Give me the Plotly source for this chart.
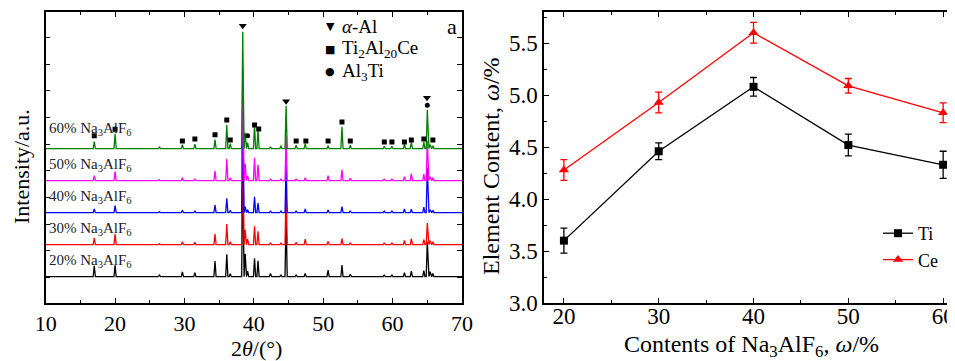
import plotly.graph_objects as go

# ---------------- data: panel a (XRD) ----------------
peak_pos = [17.0, 20.0, 26.4, 29.7, 31.5, 34.4, 36.1, 36.6, 38.4, 38.75, 39.1, 40.1, 40.6,
            42.4, 43.9, 44.65, 46.1, 47.4, 50.7, 52.7, 53.9, 58.8, 59.9, 61.7, 62.7, 64.5,
            65.0, 65.4, 65.8]
int_20 = [11, 11.5, 1.5, 4.7, 4, 15.7, 22.3, 3, 110, 23, 5.7, 18.3, 16,
          3.3, 2, 60, 2, 3.3, 6.7, 11.7, 2.5, 2, 2, 4, 5.7, 6,
          35, 5, 3.3]
int_30 = [6.7, 10.7, 1, 3, 2.5, 10.7, 20.7, 3, 110, 15, 5.7, 18.3, 13.3,
          2, 2, 60, 2.5, 5.7, 3.3, 6, 2, 2, 2, 4.3, 6, 5,
          21.7, 4, 3]
int_40 = [3.7, 7, 1, 2.5, 2, 7.7, 14.5, 2.5, 110, 6, 3, 16, 9.5,
          2, 2, 48, 2, 3.7, 2.7, 6, 2, 1.5, 2, 3.7, 3.5, 5.5,
          45, 3, 2.5]
int_50 = [5, 9, 1, 3, 2, 10, 22, 3, 110, 17, 5, 23, 16,
          2, 2, 45, 2, 3, 5, 11, 2.5, 2, 2, 4, 7, 6.5,
          40, 4, 3]
int_60 = [7, 15, 1.5, 4, 4.5, 9, 24, 5, 117, 16, 6, 24, 19,
          2, 3, 43, 3.5, 5, 3, 22, 3.5, 2.5, 2.5, 4.5, 6.5, 6.5,
          39, 4, 3]
sample_names = ["20%", "30%", "40%", "50%", "60%"]
sample_ints = [int_20, int_30, int_40, int_50, int_60]
sample_colors = ["#000000", "#ff0000", "#0000ff", "#ff00ff", "#008000"]

# phase markers (2theta, level)
sq_pos = [17.0, 20.0, 29.7, 31.5, 34.4, 36.1, 36.6, 40.1, 40.7, 46.1, 47.5, 50.7, 52.7,
          53.9, 58.8, 59.9, 61.7, 62.7, 64.5, 65.8]
sq_lvl = [167.3, 173.7, 162, 164, 168.3, 183, 163, 178, 174, 162, 162, 162, 181,
          162, 161, 161, 161, 163, 164, 163]
tri_pos = [38.4, 44.65, 64.95]
tri_lvl = [277.3, 201.7, 205.3]
cir_pos = [39.1, 65.0]
cir_lvl = [167.3, 197.7]

# ---------------- data: panel b ----------------
na_content = [20, 30, 40, 50, 60]
ti_vals = [3.60, 4.46, 5.08, 4.52, 4.33]
ti_err = [0.12, 0.08, 0.09, 0.105, 0.13]
ce_vals = [4.28, 4.93, 5.60, 5.09, 4.83]
ce_err = [0.10, 0.10, 0.10, 0.07, 0.095]

FONT = "Liberation Serif"
OFF = 8                       # page body margin
W, H = 955 - OFF, 361 - OFF   # figure size so it fills the window


def px_x(p):
    return (p - OFF) / W


def px_y(p):
    return (361 - p) / H


fig = go.Figure()

# XRD patterns
BASE0 = 26.3
STEP = 32.0
HALFW = 0.16
for i, (name, ints, col) in enumerate(zip(sample_names, sample_ints, sample_colors)):
    b = BASE0 + i * STEP
    xs = [10.0]
    ys = [b]
    for p, h in zip(peak_pos, ints):
        xs += [p - HALFW, p, p + HALFW]
        ys += [b, b + h, b]
    xs.append(70.0)
    ys.append(b)
    fig.add_trace(go.Scatter(x=xs, y=ys, mode="lines", line=dict(color=col, width=1.3),
                             xaxis="x", yaxis="y", showlegend=False, hoverinfo="skip"))

fig.add_trace(go.Scatter(x=sq_pos, y=sq_lvl, mode="markers", xaxis="x", yaxis="y",
                         marker=dict(symbol="square", size=5, color="black"), showlegend=False))
fig.add_trace(go.Scatter(x=tri_pos, y=tri_lvl, mode="markers", xaxis="x", yaxis="y",
                         marker=dict(symbol="triangle-down", size=7, color="black"), showlegend=False))
fig.add_trace(go.Scatter(x=cir_pos, y=cir_lvl, mode="markers", xaxis="x", yaxis="y",
                         marker=dict(symbol="circle", size=5, color="black"), showlegend=False))

# panel b
fig.add_trace(go.Scatter(x=na_content, y=ti_vals, name="Ti", mode="lines+markers",
                         xaxis="x2", yaxis="y2",
                         line=dict(color="black", width=1.3),
                         marker=dict(symbol="square", size=8, color="black"),
                         error_y=dict(type="data", array=ti_err, visible=True,
                                      color="black", thickness=1.3, width=3.5)))
fig.add_trace(go.Scatter(x=na_content, y=ce_vals, name="Ce", mode="lines+markers",
                         xaxis="x2", yaxis="y2",
                         line=dict(color="#ff0000", width=1.3),
                         marker=dict(symbol="triangle-up", size=9, color="#ff0000"),
                         error_y=dict(type="data", array=ce_err, visible=True,
                                      color="#ff0000", thickness=1.3, width=3.5)))

ydom = [px_y(303), px_y(12)]
axis_common = dict(showline=True, linecolor="black", linewidth=1.5, ticks="inside",
                   tickcolor="black", tickwidth=1.2, ticklen=5, showgrid=False,
                   zeroline=False, automargin=False)
left_font = dict(family=FONT, size=22, color="black")
right_font = dict(family=FONT, size=23, color="black")

fig.update_layout(
    width=W, height=H,
    margin=dict(l=0, r=0, t=0, b=0, autoexpand=False),
    paper_bgcolor="white", plot_bgcolor="white",
    font=dict(family=FONT, color="black"),
    xaxis=dict(domain=[px_x(45.7), px_x(462)], range=[10, 70], tickvals=[10, 20, 30, 40, 50, 60, 70],
               mirror="ticks", minor=dict(dtick=5, tick0=0, ticks="inside", ticklen=3, tickcolor="black"),
               anchor="y", tickfont=left_font, **axis_common),
    yaxis=dict(domain=ydom, range=[0, 291], tick0=25.4, dtick=26.7, showticklabels=False,
               mirror="ticks", anchor="x", **axis_common),
    xaxis2=dict(domain=[px_x(544), 1.0], range=[17.9, 61.25], tickvals=[20, 30, 40, 50, 60],
                mirror="ticks", minor=dict(dtick=5, tick0=0, ticks="inside", ticklen=3, tickcolor="black"),
                anchor="y2", tickfont=right_font, ticklabelstandoff=-8, **axis_common),
    yaxis2=dict(domain=ydom, range=[3.0, 5.8], tickvals=[3.0, 3.5, 4.0, 4.5, 5.0, 5.5],
                tickformat=".1f", minor=dict(dtick=0.25, tick0=0, ticks="inside", ticklen=3, tickcolor="black"),
                anchor="x2", tickfont=right_font, **axis_common),
    legend=dict(x=px_x(878), y=px_y(215), xanchor="left", yanchor="top",
                bgcolor="rgba(0,0,0,0)", font=dict(family=FONT, size=18, color="black"),
                itemwidth=30, tracegroupgap=0),
    showlegend=True,
)

ann = []
# sample labels
for i, name in enumerate(sample_names):
    b = BASE0 + i * STEP
    off = 20 if i == 4 else 16
    ann.append(dict(x=10.25, y=b + off, xref="x", yref="y", xanchor="left", yanchor="middle",
                    text=name + " Na<sub>3</sub>AlF<sub>6</sub>", showarrow=False,
                    font=dict(family=FONT, size=15, color="#222222")))
# phase legend
leg_items = [("▼", "<i>α</i>-Al", 27), ("■", "Ti<sub>2</sub>Al<sub>20</sub>Ce", 49), ("●", "Al<sub>3</sub>Ti", 72)]
for g, t, yy in leg_items:
    ann.append(dict(x=px_x(330), y=px_y(yy), xref="paper", yref="paper", xanchor="center", yanchor="middle",
                    text=g, showarrow=False, font=dict(family="DejaVu Sans", size=11, color="black")))
    ann.append(dict(x=px_x(340), y=px_y(yy), xref="paper", yref="paper", xanchor="left", yanchor="middle",
                    text=t, showarrow=False, font=dict(family=FONT, size=19, color="black")))
ann.append(dict(x=px_x(452), y=px_y(27), xref="paper", yref="paper", xanchor="center", yanchor="middle",
                text="a", showarrow=False, font=dict(family=FONT, size=22, color="black")))
ann.append(dict(x=px_x(945), y=px_y(33), xref="paper", yref="paper", xanchor="left", yanchor="middle",
                text="b", showarrow=False, font=dict(family=FONT, size=22, color="black")))
# axis titles
ann.append(dict(x=px_x(256), y=px_y(348), xref="paper", yref="paper", xanchor="center", yanchor="middle",
                text="2<i>θ</i>/(°)", showarrow=False, font=dict(family=FONT, size=22, color="black")))
ann.append(dict(x=px_x(751), y=px_y(346), xref="paper", yref="paper", xanchor="center", yanchor="middle",
                text="Contents of Na<sub>3</sub>AlF<sub>6</sub>, <i>ω</i>/%", showarrow=False,
                font=dict(family=FONT, size=24, color="black")))
ann.append(dict(x=px_x(22), y=px_y(167), xref="paper", yref="paper", xanchor="center", yanchor="middle",
                text="Intensity/a.u.", textangle=-90, showarrow=False,
                font=dict(family=FONT, size=22, color="black")))
ann.append(dict(x=px_x(491), y=px_y(166), xref="paper", yref="paper", xanchor="center", yanchor="middle",
                text="Element Content, <i>ω</i>/%", textangle=-90, showarrow=False,
                font=dict(family=FONT, size=24, color="black")))
fig.update_layout(annotations=ann)

fig.write_html("out.html")
